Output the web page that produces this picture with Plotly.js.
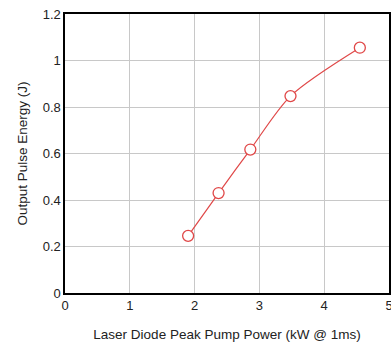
<!DOCTYPE html>
<html>
<head>
<meta charset="utf-8">
<script src="https://cdn.plot.ly/plotly-3.0.1.min.js"></script>
<style>html,body{margin:0;padding:0;background:#fff;}#chart{width:391px;height:342px;}</style>
</head>
<body>
<div id="chart"></div>
<script>
const pumpPower = [1.9, 2.37, 2.86, 3.48, 4.55];
const pulseEnergy = [0.246, 0.43, 0.617, 0.847, 1.055];
const xTicks = [0, 1, 2, 3, 4, 5];
const yTicks = [0, 0.2, 0.4, 0.6, 0.8, 1, 1.2];

const trace = {
  x: pumpPower,
  y: pulseEnergy,
  mode: 'lines+markers',
  type: 'scatter',
  line: {color: '#e04848', width: 1.2, shape: 'spline', smoothing: 0.8},
  marker: {symbol: 'circle', size: 11, color: '#ffffff', line: {color: '#e04848', width: 1.3}},
  hoverinfo: 'skip'
};

const font = {family: 'Liberation Sans, Arial, sans-serif', size: 13, color: '#222'};

const layout = {
  width: 391, height: 342,
  margin: {l: 65, r: 2, t: 14, b: 49},
  paper_bgcolor: '#fff', plot_bgcolor: '#fff',
  showlegend: false,
  font: font,
  xaxis: {
    range: [0, 5], tickvals: xTicks, ticktext: xTicks.map(String),
    showgrid: true, gridcolor: '#c8c8c8', gridwidth: 1,
    showline: true, linecolor: '#000', linewidth: 1.6, mirror: true,
    zeroline: false, ticks: '', tickfont: {size: 13, color: '#222'},
    ticklabeloverflow: 'allow', automargin: false,
    title: {text: 'Laser Diode Peak Pump Power (kW @ 1ms)', font: {size: 13.5, color: '#222'}, standoff: 18}
  },
  yaxis: {
    range: [0, 1.2], tickvals: yTicks, ticktext: yTicks.map(String),
    showgrid: true, gridcolor: '#c8c8c8', gridwidth: 1,
    showline: true, linecolor: '#000', linewidth: 1.6, mirror: true,
    zeroline: false, ticks: '', tickfont: {size: 13, color: '#222'},
    automargin: false,
    title: {text: 'Output Pulse Energy (J)', font: {size: 13.5, color: '#222'}, standoff: 12}
  }
};

Plotly.newPlot('chart', [trace], layout, {displayModeBar: false, staticPlot: true});
</script>
</body>
</html>
